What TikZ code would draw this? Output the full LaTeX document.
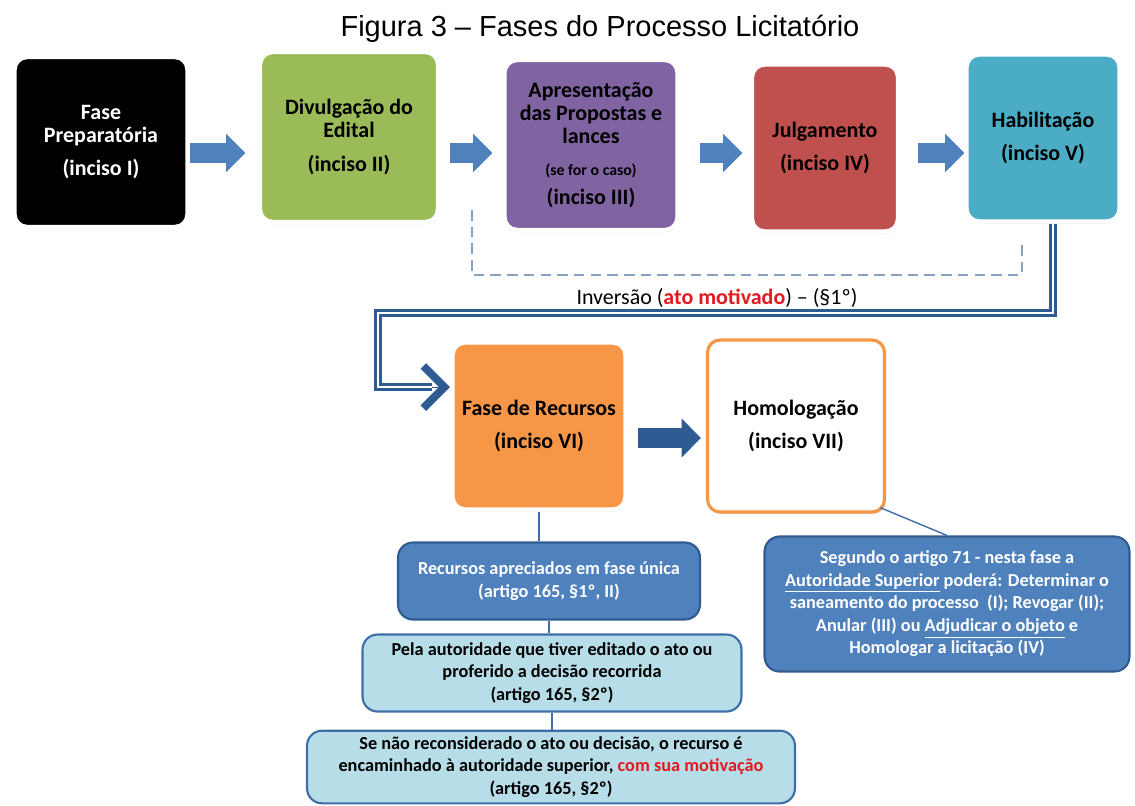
\documentclass[tikz,border=0pt]{standalone}
\usepackage{xcolor}
\usepackage{fontspec}
\setmainfont{Carlito}
\newfontfamily\titlefont{Liberation Sans}
\usetikzlibrary{arrows.meta,positioning,shadows}
\definecolor{fgreen}{HTML}{9BBB59}
\definecolor{fpurple}{HTML}{8064A2}
\definecolor{fred}{HTML}{C0504D}
\definecolor{fteal}{HTML}{4BACC6}
\definecolor{forange}{HTML}{F79646}
\definecolor{fblue}{HTML}{4F81BD}
\definecolor{dkblue}{HTML}{2F5B93}
\definecolor{midblue}{HTML}{3D6EA8}
\definecolor{lightcyan}{HTML}{B7DEE8}
\definecolor{dashblue}{HTML}{86A2C0}
\definecolor{mred}{HTML}{E3191E}

\begin{document}
\begin{tikzpicture}[y=-0.02cm,x=0.02cm,
	phase/.style={rounded corners=0.25cm, draw=white, line width=2.5pt, align=center,
		font=\fontsize{12.5}{13.2}\selectfont\bfseries, minimum width=3.46cm, minimum height=3.4cm,
		drop shadow={shadow xshift=0.6pt, shadow yshift=-1.2pt, opacity=0.3}},
	infobox/.style={rounded corners=0.3cm, line width=1.2pt, align=center,
		font=\fontsize{10.4}{12.8}\selectfont\bfseries},
	blockarrow/.style={line width=11pt, fblue, -{Triangle[length=11pt,width=21.5pt]}},
	link/.style={midblue, line width=0.8pt},
	dashline/.style={dashblue, line width=1pt, dash pattern=on 6pt off 3.5pt},
	dbl/.style={dkblue, line width=1.3pt, double=white, double distance=1.5pt},
	chevron/.style={dkblue, line width=0.5pt, -{Straight Barb[length=12pt,width=24pt,line width=4.5pt]}}]
	\useasboundingbox (0,0) rectangle (1135,805);

	\node[font=\titlefont\fontsize{16.5}{18}\selectfont] (title) at (600,29) {Figura 3 – Fases do Processo Licitatório};

	\node[phase, fill=black, text=white] (prep) at (101,142) {Fase\\Preparatória\\[6pt](inciso I)};
	\node[phase, fill=fgreen, minimum width=3.56cm] (edital) at (349,137) {Divulgação do\\Edital\\[6pt](inciso II)};
	\node[phase, fill=fpurple] (propostas) at (591,145) {Apresentação\\das Propostas e\\lances\\[5pt]{\fontsize{9}{10}\selectfont(se for o caso)}\\[3pt](inciso III)};
	\node[phase, fill=fred, minimum width=2.92cm, minimum height=3.34cm] (julg) at (825,148) {Julgamento\\[6pt](inciso IV)};
	\node[phase, fill=fteal, minimum width=3.06cm, minimum height=3.34cm] (hab) at (1043,138) {Habilitação\\[6pt](inciso V)};

	\coordinate (rowA) at (0,153);
	\draw[blockarrow] (prep.east |- rowA) -- ([xshift=-0.25cm]edital.west |- rowA);
	\draw[blockarrow] ([xshift=0.2cm]edital.east |- rowA) -- ([xshift=-0.2cm]propostas.west |- rowA);
	\draw[blockarrow] ([xshift=0.4cm]propostas.east |- rowA) -- ([xshift=-0.15cm]julg.west |- rowA);
	\draw[blockarrow] ([xshift=0.35cm]julg.east |- rowA) -- (hab.west |- rowA);

	\coordinate (invA) at (472,210);
	\coordinate (invB) at (1022,245);
	\draw[dashline] (invA) -- ++(0,65) -| (invB);
	\node[font=\fontsize{12.5}{14}\selectfont] (inversao) at (717,298) {Inversão (\textcolor{mred}{\textbf{ato motivado}}) – (§1º)};

	\node[phase, fill=forange, minimum height=3.34cm] (recursos) at (539,426) {Fase de Recursos\\[6pt](inciso VI)};
	\node[phase, fill=white, draw=forange, line width=1.8pt, minimum width=3.54cm, minimum height=3.44cm] (homolog) at (796,426) {Homologação\\[6pt](inciso VII)};

	\coordinate (bendA) at (378,313);
	\coordinate (bendB) at (432,387);
	\coordinate (tipB) at (450,387);
	\draw[dbl] ([xshift=0.2cm]hab.south) |- (bendA) |- (bendB);
	\draw[chevron] (bendB) -- (tipB);

	\coordinate (rowB) at (0,438);
	\draw[blockarrow, dkblue] ([xshift=0.2cm]recursos.east |- rowB) -- ([xshift=-0.1cm]homolog.west |- rowB);

	\node[infobox, fill=fblue, draw=dkblue, text=white, minimum width=6.04cm, minimum height=1.54cm] (apreciados) at (549,581) {Recursos apreciados em fase única\\(artigo 165, §1º, II)};
	\node[infobox, fill=lightcyan, draw=midblue, minimum width=7.58cm, minimum height=1.54cm] (autoridade) at (552,673) {Pela autoridade que tiver editado o ato ou\\proferido a decisão recorrida\\(artigo 165, §2º)};
	\node[infobox, fill=lightcyan, draw=midblue, minimum width=9.76cm, minimum height=1.42cm] (superior) at (551,767) {Se não reconsiderado o ato ou decisão, o recurso é\\encaminhado à autoridade superior, \textcolor{mred}{com sua motivação}\\(artigo 165, §2º)};
	\node[infobox, fill=fblue, draw=dkblue, text=white, minimum width=7.3cm, minimum height=2.7cm] (art71) at (947,604) {Segundo o artigo 71 - nesta fase a\\\underline{Autoridade Superior} poderá: Determinar o\\saneamento do processo~ (I); Revogar (II);\\Anular (III) ou \underline{Adjudicar o objeto} e\\Homologar a licitação (IV)};

	\draw[link] (recursos.south) -- (recursos.south |- apreciados.north);
	\draw[link] (apreciados.south) -- (apreciados.south |- autoridade.north);
	\draw[link] (autoridade.south) -- (autoridade.south |- superior.north);
	\draw[link] ([xshift=-0.12cm,yshift=0.12cm]homolog.south east) -- (art71.north);
\end{tikzpicture}
\end{document}
